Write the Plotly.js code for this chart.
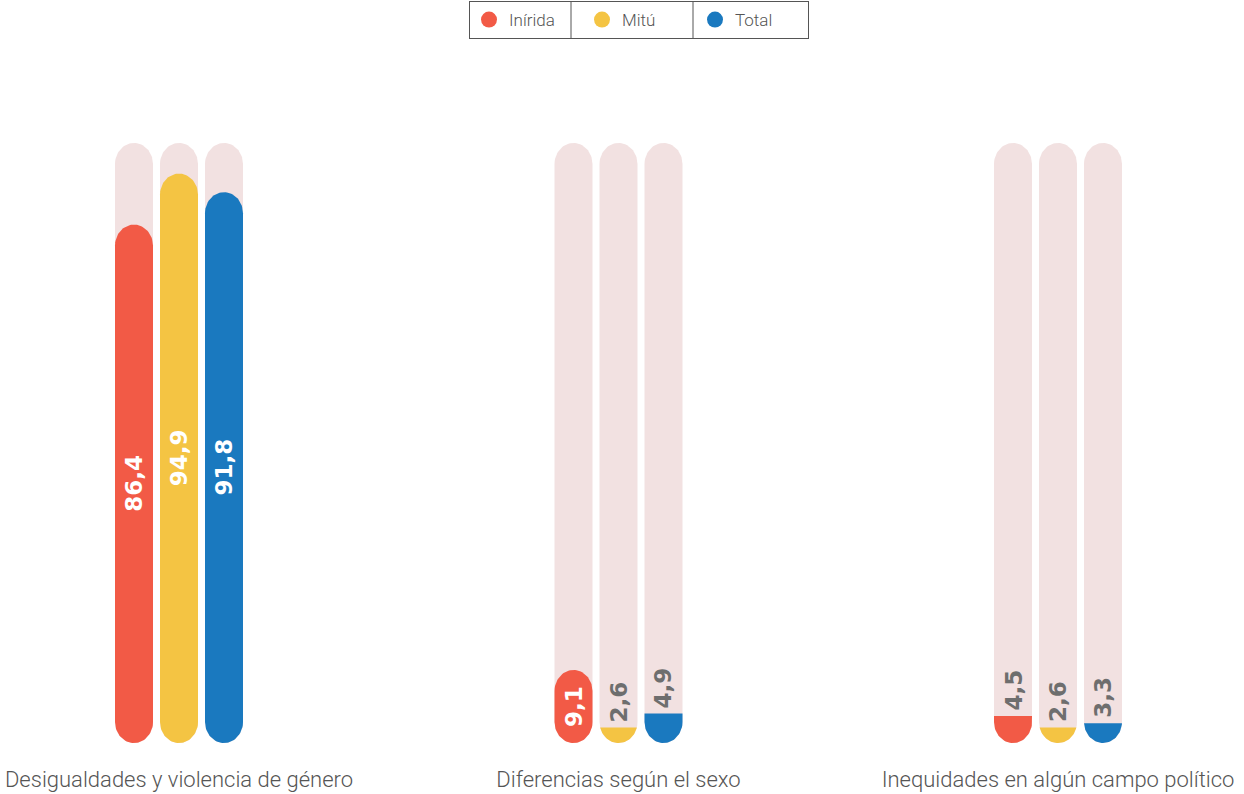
<!DOCTYPE html>
<html>
<head>
<meta charset="utf-8">
<script src="https://cdn.plot.ly/plotly-3.0.1.min.js"></script>
<style>html,body{margin:0;padding:0;background:#fff;}#chart{width:1244px;height:794px;}</style>
</head>
<body>
<div id="chart"></div>
<script>
// ---- Data ----
const categories = ["Desigualdades y violencia de género", "Diferencias según el sexo", "Inequidades en algún campo político"];
const seriesNames = ["Inírida", "Mitú", "Total"];
const inirida = [86.4, 9.1, 4.5];
const mitu = [94.9, 2.6, 2.6];
const total = [91.8, 4.9, 3.3];
const seriesValues = [inirida, mitu, total];
const colors = ["#F25A46", "#F4C443", "#1A79BF"];
const trackColor = "#F2E1E1";
const maxValue = 100;

// ---- Layout geometry (pixels) ----
const W = 1244, H = 794;
const plotTop = 60, plotBottom = 755;
const pxPerY = 6;
const baselinePx = 743;
const groupPx = 439.5;
const firstGroupPx = 179;
const barStepPx = 45;
const capRx = 19, capRy = 21;
const minPillPx = 73;
const insideThreshold = 9;

const yMin = -(plotBottom - baselinePx) / pxPerY;
const yMax = (baselinePx - plotTop) / pxPerY;
const xMin = -firstGroupPx / groupPx;
const xMax = (W - firstGroupPx) / groupPx;
const rx = capRx / groupPx, ry = capRy / pxPerY;
const step = barStepPx / groupPx;
const plotH = plotBottom - plotTop;

function pill(cx, topY, roundTop) {
  const xs = [], ys = [];
  const N = 40;
  const cb = ry;
  if (roundTop) {
    for (let k = 0; k <= N; k++) { const t = Math.PI + Math.PI * k / N; xs.push(cx + rx * Math.cos(t)); ys.push(cb + ry * Math.sin(t)); }
    const ct = topY - ry;
    for (let k = 0; k <= N; k++) { const t = Math.PI * k / N; xs.push(cx + rx * Math.cos(t)); ys.push(ct + ry * Math.sin(t)); }
  } else if (topY >= cb) {
    for (let k = 0; k <= N; k++) { const t = Math.PI + Math.PI * k / N; xs.push(cx + rx * Math.cos(t)); ys.push(cb + ry * Math.sin(t)); }
    xs.push(cx + rx, cx - rx); ys.push(topY, topY);
  } else {
    const s = (topY - cb) / ry;
    const t1 = Math.PI - Math.asin(s), t2 = 2 * Math.PI + Math.asin(s);
    for (let k = 0; k <= N; k++) { const t = t1 + (t2 - t1) * k / N; xs.push(cx + rx * Math.cos(t)); ys.push(cb + ry * Math.sin(t)); }
  }
  xs.push(xs[0]); ys.push(ys[0]);
  return {xs, ys};
}

const fmt = v => v.toFixed(1).replace('.', ',');
const traces = [];
const annotations = [];

categories.forEach((c, g) => {
  seriesNames.forEach((s, i) => {
    const cx = g + (i - 1) * step;
    const p = pill(cx, maxValue, true);
    traces.push({type: 'scatter', x: p.xs, y: p.ys, mode: 'lines', fill: 'toself', fillcolor: trackColor,
      line: {width: 0, color: trackColor}, hoverinfo: 'skip', showlegend: false});
  });
});
seriesNames.forEach((s, i) => {
  seriesValues[i].forEach((v, g) => {
    const cx = g + (i - 1) * step;
    const inside = v >= insideThreshold;
    const len = inside ? Math.max(v, minPillPx / pxPerY) : v;
    const p = pill(cx, len, inside);
    traces.push({type: 'scatter', x: p.xs, y: p.ys, mode: 'lines', fill: 'toself', fillcolor: colors[i],
      line: {width: 0, color: colors[i]}, name: s, legendgroup: s, showlegend: false,
      hoverinfo: 'text', text: s + ': ' + fmt(v), hoveron: 'fills'});
    if (inside) {
      annotations.push({x: cx, y: len / 2, xref: 'x', yref: 'y', text: fmt(v), textangle: -90, showarrow: false,
        font: {family: 'DejaVu Sans', size: 23, color: '#FFFFFF', weight: 700}, xanchor: 'center', yanchor: 'middle'});
    } else {
      annotations.push({x: cx, y: v, xref: 'x', yref: 'y', text: fmt(v), textangle: -90, showarrow: false,
        font: {family: 'DejaVu Sans', size: 23, color: '#6E6E6E', weight: 700}, xanchor: 'center', yanchor: 'bottom', yshift: 3});
    }
  });
});
seriesNames.forEach((s, i) => {
  traces.push({type: 'scatter', x: [null], y: [null], mode: 'markers', name: s, legendgroup: s,
    marker: {symbol: 'circle', size: 21, color: colors[i]}, showlegend: true});
});

// legend cell dividers (pixel positions in the legend box)
const legendTopPx = 1, legendBottomPx = 38;
const dividerPx = [571, 693];
const shapes = dividerPx.map(px => ({type: 'line', xref: 'paper', yref: 'paper', layer: 'above',
  x0: px / W, x1: px / W, y0: 1 + (plotTop - legendTopPx) / plotH, y1: 1 + (plotTop - legendBottomPx) / plotH,
  line: {color: '#555555', width: 1}}));

const layout = {
  width: W, height: H,
  margin: {l: 0, r: 0, t: plotTop, b: H - plotBottom, pad: 0},
  paper_bgcolor: '#FFFFFF', plot_bgcolor: '#FFFFFF',
  font: {family: 'Roboto', color: '#555555'},
  showlegend: true,
  legend: {orientation: 'h', x: 639 / W, xanchor: 'center', y: 1 + (plotTop - legendTopPx) / plotH, yanchor: 'top',
    bgcolor: 'rgba(255,255,255,0)', bordercolor: '#555555', borderwidth: 1, entrywidth: 68, entrywidthmode: 'pixels',
    font: {family: 'Roboto', size: 17, color: '#555555', weight: 300}, itemsizing: 'trace'},
  xaxis: {range: [xMin, xMax], showgrid: false, zeroline: false, showline: false, ticks: '',
    tickmode: 'array', tickvals: [0, 1, 2], ticktext: categories, ticklabelstandoff: 9,
    tickfont: {family: 'Roboto', size: 22, color: '#555555', weight: 300}, fixedrange: true},
  yaxis: {range: [yMin, yMax], showgrid: false, zeroline: false, showline: false, showticklabels: false, ticks: '', fixedrange: true},
  shapes: shapes,
  annotations: annotations
};

Plotly.newPlot('chart', traces, layout, {displayModeBar: false, responsive: false});
</script>
</body>
</html>
